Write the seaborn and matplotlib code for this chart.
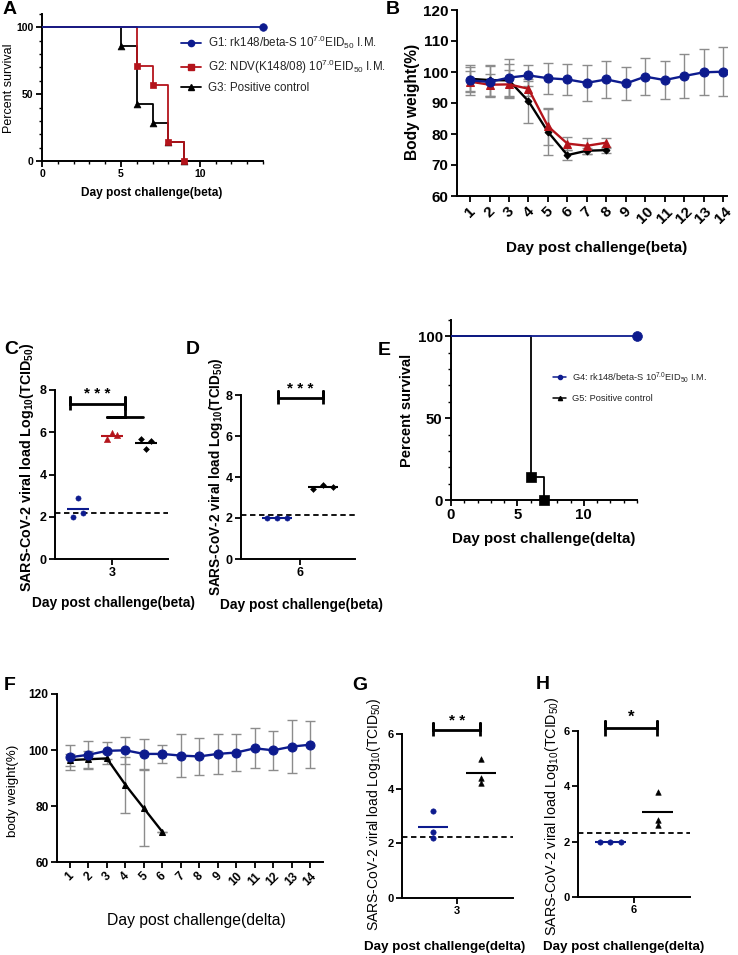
import numpy as np
import pandas as pd
import matplotlib
matplotlib.use("Agg")
import matplotlib.pyplot as plt
import seaborn as sns
from matplotlib.lines import Line2D
from matplotlib.ticker import MultipleLocator

W, H = 738, 955

BLUE = "#0d1b8e"
RED = "#b4141b"
BLACK = "#000000"
GREY = "#8c8c8c"

# ---- A: survival after beta challenge (%)
a_g1_days = [0, 14]
a_g1_surv = [100, 100]
a_g2_days = [0, 6, 7, 8, 9]
a_g2_surv = [100, 71.4, 57.1, 14.3, 0]
a_g3_days = [0, 5, 6, 7, 8, 9]
a_g3_surv = [100, 85.7, 42.9, 28.6, 14.3, 0]
a_labels = [r"G1: rk148/beta-S 10$^{7.0}$EID$_{50}$ I.M.",
            r"G2: NDV(K148/08) 10$^{7.0}$EID$_{50}$ I.M.",
            "G3: Positive control"]

# ---- B: body weight after beta challenge (%)
b_days_g1 = list(range(1, 15))
b_days_g23 = list(range(1, 9))
b_g1_mean = [97.3, 96.8, 98.2, 98.9, 98.0, 97.6, 96.5, 97.6, 96.3, 98.5, 97.4, 98.7, 99.9, 100.1]
b_g1_sd = [4.8, 5.0, 6.0, 3.4, 5.0, 5.1, 5.7, 6.0, 5.4, 5.9, 6.0, 7.0, 7.4, 8.0]
b_g2_mean = [96.9, 95.9, 96.0, 94.6, 82.5, 76.9, 76.2, 77.2]
b_g2_sd = [3.5, 3.5, 4.5, 2.5, 6.0, 2.2, 2.5, 1.5]
b_g3_mean = [97.8, 97.4, 97.3, 90.6, 80.7, 73.2, 74.6, 74.8]
b_g3_sd = [3.8, 5.0, 5.3, 7.0, 7.5, 1.5, 1.0, 0.8]

# ---- C / D: viral load, beta
c_day = "3"
c_g1 = [2.0, 2.9, 2.2]
c_g2 = [5.7, 5.95, 5.87]
c_g3 = [5.7, 5.2, 5.6]
d_day = "6"
d_g1 = [2.0, 2.0, 2.0]
d_g3 = [3.4, 3.6, 3.5]
lod_c, lod_d = 2.18, 2.17

# ---- E: survival after delta challenge (%)
e_g4_days = [0, 14]
e_g4_surv = [100, 100]
e_g5_days = [0, 6, 7]
e_g5_surv = [100, 14.3, 0]
e_labels = [r"G4: rk148/beta-S 10$^{7.0}$EID$_{50}$ I.M.", "G5: Positive control"]

# ---- F: body weight after delta challenge (%)
f_days_g4 = list(range(1, 15))
f_days_g5 = list(range(1, 7))
f_g4_mean = [97.4, 98.3, 99.7, 99.9, 98.6, 98.6, 98.0, 97.7, 98.6, 99.1, 100.6, 99.9, 101.2, 101.9]
f_g4_sd = [4.5, 5.0, 3.0, 4.8, 5.3, 3.1, 7.8, 6.5, 7.0, 6.6, 7.2, 7.0, 9.5, 8.3]
f_g5_mean = [96.4, 96.7, 97.0, 87.6, 79.2, 70.8]
f_g5_sd = [2.0, 3.0, 2.0, 10.0, 13.5, 0.0]

# ---- G / H: viral load, delta
g_day = "3"
g_g4 = [3.2, 2.4, 2.2]
g_g5 = [5.1, 4.4, 4.2]
h_day = "6"
h_g4 = [2.0, 2.0, 2.0]
h_g5 = [3.8, 2.8, 2.6]
lod_g, lod_h = 2.24, 2.33

VL_LABEL = r"SARS-CoV-2 viral load Log$_{10}$(TCID$_{50}$)"

sns.set_theme(style="ticks")
plt.rcParams["font.family"] = ["Liberation Sans", "DejaVu Sans"]
plt.rcParams["font.weight"] = "bold"
plt.rcParams["mathtext.default"] = "regular"

fig = plt.figure(figsize=(W / 100, H / 100), dpi=100)


def rect(l, t, r, b):
    return [l / W, 1 - b / H, (r - l) / W, (b - t) / H]


def fx(x):
    return x / W


def fy(y):
    return 1 - y / H


def style(ax, size):
    sns.despine(ax=ax)
    for s in ("left", "bottom"):
        ax.spines[s].set_color("black")
        ax.spines[s].set_linewidth(1.4)
    ax.tick_params(which="major", direction="out", length=4, width=1.3,
                   color="black", labelsize=size, pad=2, labelcolor="black")
    ax.tick_params(which="minor", direction="out", length=2.5, width=1.0, color="black")


def put_xlabel(ax, text, x, y, size, weight="bold"):
    ax.set_xlabel(text, fontsize=size, fontweight=weight, color="black")
    ax.xaxis.set_label_coords(fx(x), fy(y), transform=fig.transFigure)
    ax.xaxis.label.set_va("center")


def put_ylabel(ax, text, x, y, size, weight="bold"):
    ax.set_ylabel(text, fontsize=size, fontweight=weight, color="black")
    ax.yaxis.set_label_coords(fx(x), fy(y), transform=fig.transFigure)
    ax.yaxis.label.set_va("center")
    ax.yaxis.label.set_ha("center")


def km(ax, days, surv, color, marker, size, z):
    sns.lineplot(x=days, y=surv, drawstyle="steps-post", color=color, linewidth=1.3,
                 estimator=None, ax=ax, zorder=z)
    sns.scatterplot(x=days[1:], y=surv[1:], marker=marker, s=size, color=color,
                    edgecolor=color, linewidth=0.5, ax=ax, zorder=z + 0.5, clip_on=False)


def weight(ax, days, mean, sd, color, marker, ms, z):
    ax.errorbar(days, mean, yerr=sd, fmt="none", ecolor=GREY, elinewidth=1.0,
                capsize=3.5, capthick=1.0, zorder=1)
    sns.lineplot(x=days, y=mean, color=color, linewidth=1.7, marker=marker,
                 markersize=ms, markeredgecolor=color, ax=ax, zorder=z)


def viral(ax, groups, centers, offsets, colors, markers, sizes, lod):
    for vals, c, off, col, m, s in zip(groups, centers, offsets, colors, markers, sizes):
        xs = [c + o for o in off]
        sns.scatterplot(x=xs, y=vals, color=col, marker=m, s=s, edgecolor=col,
                        linewidth=0.4, ax=ax, zorder=3, clip_on=False)
        ax.hlines(np.mean(vals), c - 0.32, c + 0.32, color=col, lw=1.5, zorder=2)
    ax.axhline(lod, ls=(0, (3, 2)), color="black", lw=1.3, zorder=1)


def bracket(ax, x0, x1, y, h, text, tx, ty, size):
    ax.plot([x0, x0, x0, x1, x1, x1], [y - h, y + h, y, y, y + h, y - h],
            color="black", lw=2.0, clip_on=False, solid_capstyle="butt")
    ax.text(tx, ty, text, ha="center", va="center", fontsize=size, color="black")


# ================= A =================
axA = fig.add_axes(rect(42, 14, 263, 161))
km(axA, a_g3_days, a_g3_surv, BLACK, "^", 24, 3)
km(axA, a_g2_days, a_g2_surv, RED, "s", 24, 4)
km(axA, a_g1_days, a_g1_surv, BLUE, "o", 30, 5)
axA.set_xlim(0, 14)
axA.set_ylim(0, 110)
axA.set_xticks([0, 5, 10])
axA.set_yticks([0, 50, 100])
axA.xaxis.set_minor_locator(MultipleLocator(1))
axA.yaxis.set_minor_locator(MultipleLocator(10))
style(axA, 7.5)
put_xlabel(axA, "Day post challenge(beta)", 152, 193, 8.6)
put_ylabel(axA, "Percent survival", 9, 88, 9, "normal")
handlesA = [Line2D([], [], color=BLUE, marker="o", ms=4.5, lw=1.3),
            Line2D([], [], color=RED, marker="s", ms=4.5, lw=1.3),
            Line2D([], [], color=BLACK, marker="^", ms=4.5, lw=1.3)]
axA.legend(handlesA, a_labels, loc="upper left", bbox_to_anchor=(fx(181), fy(34)),
           bbox_transform=fig.transFigure, frameon=False, handlelength=1.7,
           handletextpad=0.6, borderpad=0, borderaxespad=0, labelspacing=0.55,
           prop={"size": 8.4, "weight": "normal"})

# ================= B =================
axB = fig.add_axes(rect(457, 10, 727, 196))
weight(axB, b_days_g23, b_g3_mean, b_g3_sd, BLACK, "D", 3.5, 3)
weight(axB, b_days_g23, b_g2_mean, b_g2_sd, RED, "^", 5.5, 4)
weight(axB, b_days_g1, b_g1_mean, b_g1_sd, BLUE, "o", 6.5, 5)
axB.set_xlim(0.33, 14.2)
axB.set_ylim(60, 120)
axB.set_yticks(range(60, 121, 10))
axB.set_xticks(b_days_g1)
axB.set_xticklabels([str(d) for d in b_days_g1], rotation=45, ha="center")
style(axB, 11)
put_xlabel(axB, "Day post challenge(beta)", 597, 248, 11)
put_ylabel(axB, "Body weight(%)", 412, 102, 11.2)

# ================= C =================
axC = fig.add_axes(rect(55, 390, 168, 559))
viral(axC, [c_g1, c_g2, c_g3], [-1, 0, 1],
      [[-0.15, 0, 0.15]] * 3, [BLUE, RED, BLACK], ["o", "^", "D"], [14, 20, 9], lod_c)
axC.set_xlim(-1.68, 1.65)
axC.set_ylim(0, 8)
axC.set_yticks([0, 2, 4, 6, 8])
axC.set_xticks([0])
axC.set_xticklabels([c_day])
bracket(axC, -1.24, 0.38, 7.35, 0.3, "* * *", -0.43, 7.8, 11)
axC.plot([0.38, 0.38, -0.15, 0.9], [7.35, 6.73, 6.73, 6.73], color="black", lw=2.0,
         clip_on=False)
style(axC, 9)
put_xlabel(axC, "Day post challenge(beta)", 113, 603, 9.9)
put_ylabel(axC, VL_LABEL, 27, 467, 10.3)

# ================= D =================
axD = fig.add_axes(rect(241, 395, 355, 559))
viral(axD, [d_g1, d_g3], [-0.5, 0.5], [[-0.22, 0, 0.22]] * 2,
      [BLUE, BLACK], ["o", "D"], [14, 9], lod_d)
axD.set_xlim(-1.28, 1.2)
axD.set_ylim(0, 8)
axD.set_yticks([0, 2, 4, 6, 8])
axD.set_xticks([0])
axD.set_xticklabels([d_day])
bracket(axD, -0.48, 0.5, 7.87, 0.33, "* * *", 0, 8.3, 11)
style(axD, 9)
put_xlabel(axD, "Day post challenge(beta)", 301, 605, 9.9)
put_ylabel(axD, VL_LABEL, 216, 477, 9.8)

# ================= E =================
axE = fig.add_axes(rect(451, 320, 637, 500))
km(axE, e_g5_days, e_g5_surv, BLACK, "s", 55, 3)
km(axE, e_g4_days, e_g4_surv, BLUE, "o", 50, 5)
axE.set_xlim(0, 14)
axE.set_ylim(0, 110)
axE.set_xticks([0, 5, 10])
axE.set_yticks([0, 50, 100])
axE.xaxis.set_minor_locator(MultipleLocator(1))
axE.yaxis.set_minor_locator(MultipleLocator(10))
style(axE, 10.8)
put_xlabel(axE, "Day post challenge(delta)", 544, 539, 10.9)
put_ylabel(axE, "Percent survival", 407, 410, 10.5)
handlesE = [Line2D([], [], color=BLUE, marker="o", ms=3, lw=1.1),
            Line2D([], [], color=BLACK, marker="^", ms=3, lw=1.1)]
axE.legend(handlesE, e_labels, loc="upper left", bbox_to_anchor=(fx(553), fy(370)),
           bbox_transform=fig.transFigure, frameon=False, handlelength=1.4,
           handletextpad=0.6, borderpad=0, borderaxespad=0, labelspacing=1.0,
           prop={"size": 6.7, "weight": "normal"})

# ================= F =================
axF = fig.add_axes(rect(57, 694, 323, 862))
weight(axF, f_days_g5, f_g5_mean, f_g5_sd, BLACK, "^", 5, 3)
weight(axF, f_days_g4, f_g4_mean, f_g4_sd, BLUE, "o", 6.5, 5)
axF.set_xlim(0.3, 14.7)
axF.set_ylim(60, 120)
axF.set_yticks([60, 80, 100, 120])
axF.set_xticks(f_days_g4)
axF.set_xticklabels([str(d) for d in f_days_g4], rotation=45, ha="center")
style(axF, 8.6)
put_xlabel(axF, "Day post challenge(delta)", 196, 920, 11.3, "normal")
put_ylabel(axF, "body weight(%)", 13, 791, 9.6, "normal")

# ================= G =================
axG = fig.add_axes(rect(402, 734, 513, 898))
viral(axG, [g_g4, g_g5], [-0.5, 0.5], [[0, 0, 0]] * 2,
      [BLUE, BLACK], ["o", "^"], [15, 16], lod_g)
axG.set_xlim(-1.15, 1.17)
axG.set_ylim(0, 6)
axG.set_yticks([0, 2, 4, 6])
axG.set_xticks([0])
axG.set_xticklabels([g_day])
bracket(axG, -0.5, 0.48, 6.16, 0.25, "* *", 0, 6.48, 11)
style(axG, 8)
put_xlabel(axG, "Day post challenge(delta)", 445, 947, 9.6)
put_ylabel(axG, VL_LABEL, 374, 814, 10, "normal")

# ================= H =================
axH = fig.add_axes(rect(578, 731, 690, 897))
viral(axH, [h_g4, h_g5], [-0.5, 0.5], [[-0.23, 0, 0.23], [0, 0, 0]],
      [BLUE, BLACK], ["o", "^"], [15, 16], lod_h)
axH.set_xlim(-1.19, 1.19)
axH.set_ylim(0, 6)
axH.set_yticks([0, 2, 4, 6])
axH.set_xticks([0])
axH.set_xticklabels([h_day])
bracket(axH, -0.62, 0.49, 6.1, 0.27, "*", -0.06, 6.5, 12)
style(axH, 8)
put_xlabel(axH, "Day post challenge(delta)", 624, 947, 9.6)
put_ylabel(axH, VL_LABEL, 552, 816, 10.3, "normal")

# panel letters
for letter, x, y in [("A", 3, 1), ("B", 386, 1), ("C", 4, 341), ("D", 186, 341),
                     ("E", 378, 342), ("F", 4, 677), ("G", 352, 677), ("H", 536, 676)]:
    fig.text(fx(x), fy(y), letter, ha="left", va="top", fontsize=14, fontweight="bold",
             color="black")

fig.savefig("out.png", dpi=100)
